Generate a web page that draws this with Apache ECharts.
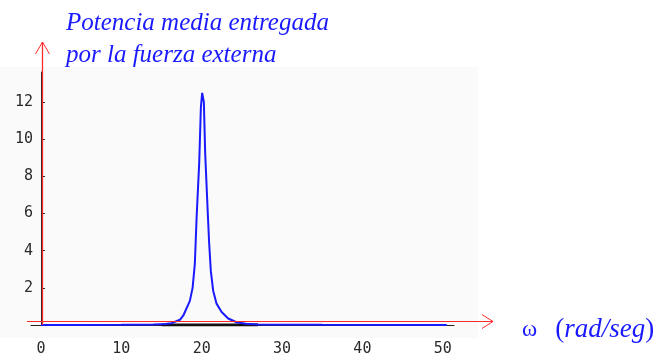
<!DOCTYPE html>
<html><head><meta charset="utf-8">
<script src="https://cdn.jsdelivr.net/npm/echarts@6/dist/echarts.min.js"></script>
<style>html,body{margin:0;padding:0;background:#fff}#c{width:657px;height:360px}</style>
</head><body><div id="c"></div>
<script>
// Data
const omega = [0, 5, 10, 14, 15.5, 16.25, 17.29, 17.7, 18.12, 18.53, 18.87, 19.15, 19.37, 19.69, 19.9, 20.06, 20.27, 20.44, 20.73, 20.93, 21.14, 21.43, 21.85, 22.48, 23.3, 24.34, 25.5, 27.0, 35, 50.5];
const power = [0, 0, 0.01, 0.03, 0.05, 0.1, 0.28, 0.5, 0.9, 1.3, 2.0, 3.3, 5.8, 8.7, 11.7, 12.5, 12.0, 9.2, 6.3, 4.4, 2.9, 1.85, 1.15, 0.7, 0.35, 0.15, 0.07, 0.03, 0.01, 0];
const baseSegOmega = [15, 27];
const baseSegPower = [0, 0];
const xTickValues = [0, 10, 20, 30, 40, 50];
const yTickValues = [2, 4, 6, 8, 10, 12];
const titleLines = ['Potencia media entregada', 'por la fuerza externa'];
const xName = ['ω', 'rad/seg'];

const chart = echarts.init(document.getElementById('c'), null, {renderer: 'canvas'});
const curve = omega.map((w, i) => [w, power[i]]);
const seg = baseSegOmega.map((w, i) => [w, baseSegPower[i]]);
const blue = '#1a1aff';
const tickFont = {fontFamily: 'DejaVu Sans Mono', fontSize: 15, color: '#2a2a2a'};
const serif = {fontFamily: 'Liberation Serif', fontWeight: 'normal', color: blue, lineHeight: 30};

chart.setOption({
  animation: false,
  backgroundColor: '#ffffff',
  title: [{
    text: titleLines.join('\n'),
    left: 61, top: 2,
    textStyle: {fontFamily: 'Liberation Serif', fontStyle: 'italic', fontWeight: 'normal', fontSize: 25, lineHeight: 32, color: blue}
  }, {
    text: '{w|' + xName[0] + '}{s|}{p|(}{i|' + xName[1] + '}{p|)}',
    left: 517, top: 310,
    textStyle: {
      fontWeight: 'normal',
      rich: {
        w: {...serif, fontSize: 23},
        s: {width: 18, lineHeight: 30},
        p: {...serif, fontSize: 27},
        i: {...serif, fontStyle: 'italic', fontSize: 27}
      }
    }
  }],
  grid: {left: 31, right: 203, top: 72, bottom: 35, containLabel: false},
  xAxis: {
    type: 'value', min: -1.24, max: 51.4,
    splitLine: {show: false},
    axisLine: {show: true, lineStyle: {color: '#222', width: 1}},
    axisTick: {show: false},
    axisLabel: {
      show: true, margin: 17, customValues: xTickValues, ...tickFont,
      formatter: v => xTickValues.includes(v) ? String(v) : ''
    }
  },
  yAxis: {
    type: 'value', min: 0, max: 13.62, interval: 2,
    splitLine: {show: false},
    axisLine: {show: true, lineStyle: {color: '#222', width: 1}},
    axisTick: {show: true, inside: true, length: 4, customValues: yTickValues, lineStyle: {color: '#222'}},
    axisLabel: {
      show: true, margin: -2, customValues: yTickValues, ...tickFont,
      formatter: v => yTickValues.includes(v) ? String(v) : ''
    }
  },
  series: [{
    type: 'line', data: seg, showSymbol: false, symbol: 'none', z: 1,
    lineStyle: {color: '#111', width: 3}
  }, {
    type: 'line', data: curve, showSymbol: false, symbol: 'none', z: 3,
    lineStyle: {color: blue, width: 2}
  }]
});

const p0 = chart.convertToPixel({gridIndex: 0}, [0, 0]);
const x0 = p0[0], y0 = p0[1];
const red = '#ff2a2a';
const hy = Math.round(y0 - 4) + 0.5;
const vx = Math.round(x0) + 1.5;
chart.setOption({
  graphic: [
    {type: 'rect', z: -100, silent: true, shape: {x: 0, y: 67, width: 478, height: 271}, style: {fill: '#fafafa'}},
    {type: 'line', z: 50, silent: true, shape: {x1: vx, y1: y0, x2: vx, y2: 42}, style: {stroke: red, lineWidth: 1.3}},
    {type: 'polyline', z: 50, silent: true, shape: {points: [[vx - 7, 54], [vx, 42], [vx + 7, 54]]}, style: {stroke: red, lineWidth: 1, fill: null}},
    {type: 'line', z: 50, silent: true, shape: {x1: 27, y1: hy, x2: 493, y2: hy}, style: {stroke: red, lineWidth: 1}},
    {type: 'polyline', z: 50, silent: true, shape: {points: [[482, hy - 7], [493, hy], [482, hy + 7]]}, style: {stroke: red, lineWidth: 1, fill: null}}
  ]
});
</script>
</body></html>
